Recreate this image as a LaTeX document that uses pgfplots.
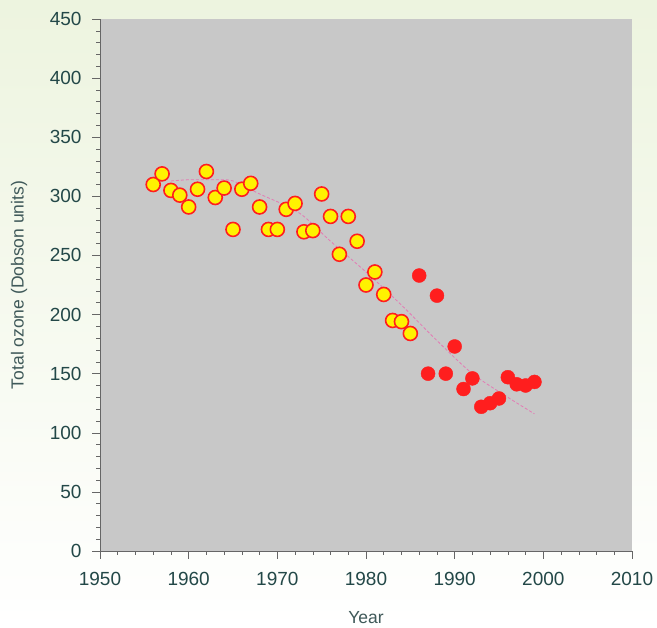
\documentclass[border=0pt]{standalone}
\usepackage{pgfplots}
\pgfplotsset{compat=1.18}
\usepackage{fontspec}
\setmainfont{Liberation Sans}

\definecolor{bgtop}{HTML}{EDF4DF}
\definecolor{plotgray}{HTML}{C8C8C8}
\definecolor{ticktext}{HTML}{234848}
\definecolor{trendpink}{HTML}{E47AB4}
\definecolor{dotred}{HTML}{FF1E1E}
\definecolor{dotyellow}{HTML}{FFF200}

\begin{document}
\begin{tikzpicture}
	\shade[top color=bgtop, bottom color=white] (-100pt,-77pt) rectangle (557pt,551pt);
	\begin{axis}[
		scale only axis,
		width=532pt, height=532pt,
		xmin=1950, xmax=2010,
		ymin=0, ymax=450,
		xtick={1950,1960,...,2010},
		ytick={0,50,...,450},
		minor x tick num=4,
		minor y tick num=4,
		axis x line*=bottom,
		axis y line*=left,
		axis line style={draw=gray!80!black, line width=0.6pt},
		tick align=outside,
		major tick length=8pt,
		minor tick length=4pt,
		tick style={gray!80!black, line width=0.5pt},
		axis background/.style={fill=plotgray},
		/pgf/number format/1000 sep={},
		/pgf/number format/assume math mode=true,
		ticklabel style={font=\fontsize{19}{19}\selectfont, text=ticktext},
		xticklabel style={yshift=-10pt},
		yticklabel style={xshift=-7pt},
		xlabel={Year},
		ylabel={Total ozone (Dobson units)},
		label style={font=\fontsize{17.5}{17.5}\selectfont, text=ticktext!70!gray},
		xlabel style={at={(axis description cs:0.5,-0.126)}, anchor=center},
		ylabel style={at={(axis description cs:-0.152,0.5)}, anchor=center},
		clip=false,
	]
	% fitted trend
	\addplot[trendpink, densely dashed, line width=0.8pt, smooth] coordinates {
		(1958,313)(1960,314)(1963,314)(1965,313)(1968,302)(1971,292)(1973,283)
		(1976,262)(1980,236)(1984,208)(1988,178)(1992,150)(1996,130)(1999,116)
	};
	% 1956-1985
	\addplot[only marks, mark=*, mark size=7pt,
		mark options={fill=dotyellow, draw=dotred, line width=1.6pt}] coordinates {
		(1956,310)(1957,319)(1958,305)(1959,301)(1960,291)(1961,306)(1962,321)
		(1963,299)(1964,307)(1965,272)(1966,306)(1967,311)(1968,291)(1969,272)
		(1970,272)(1971,289)(1972,294)(1973,270)(1974,271)(1975,302)(1976,283)
		(1977,251)(1978,283)(1979,262)(1980,225)(1981,236)(1982,217)(1983,195)
		(1984,194)(1985,184)
	};
	% 1986-1999
	\addplot[only marks, mark=*, mark size=7pt,
		mark options={fill=dotred, draw=dotred}] coordinates {
		(1986,233)(1987,150)(1988,216)(1989,150)(1990,173)(1991,137)(1992,146)
		(1993,122)(1994,125)(1995,129)(1996,147)(1997,141)(1998,140)(1999,143)
	};
	\end{axis}
\end{tikzpicture}
\end{document}
